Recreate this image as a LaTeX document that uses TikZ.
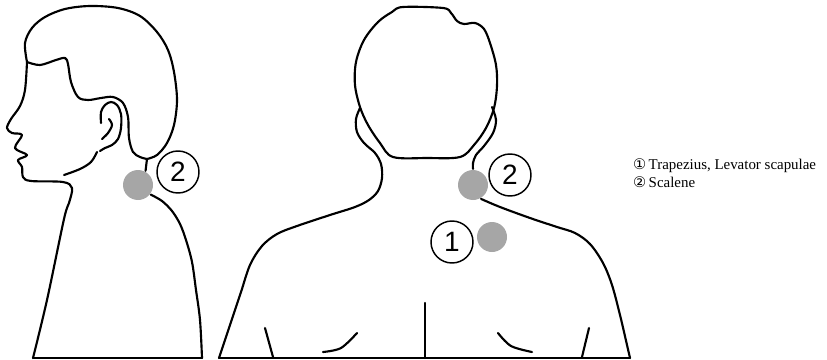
\documentclass[tikz,border=0pt]{standalone}
\usepackage{fontspec}
\setmainfont{Liberation Serif}
\newfontfamily\labelfont{Liberation Sans}
\newfontfamily\symfont{DejaVu Sans}

\begin{document}
\begin{tikzpicture}[x=0.75pt,y=-0.75pt,line width=1.6pt,line join=round,line cap=round]
\useasboundingbox (0,0) rectangle (827,360);

\tikzstyle{spot}=[circle,fill=black!35,minimum size=22.5pt,inner sep=0pt]
\tikzstyle{num}=[circle,draw,line width=1.1pt,minimum size=31.5pt,inner sep=0pt,font=\labelfont\fontsize{21}{21}\selectfont]
\tikzstyle{contour}=[black,smooth,tension=0.55]
\tikzstyle{legend}=[anchor=west,inner sep=0pt,font=\fontsize{11.2}{13}\selectfont]

% side view
\node [spot] (sideS) at (138,185) {};
\node [num] (sideN) at (178,172) {2};
\draw plot [contour] coordinates {(27,62) (25,43) (32,28) (45,17) (65,9) (90,6) (118,8) (140,16) (157,32) (168,50) (174,72) (177,100) (174,125) (167,143) (157,155) (147,159)};
\draw plot [contour] coordinates {(27,62) (40,65) (56,60) (65,58) (68,64) (71,82) (78,97) (88,100) (101,98) (113,97) (123,103) (128,117) (129,138) (133,152) (140,157) (147,159)};
\draw (147,159) -- (sideS.62);
\draw plot [contour] coordinates {(sideS.-37) (162,201) (172,211) (180,224) (186,240) (192,262) (196,290) (200,320) (202,358)};
\draw plot [contour] coordinates {(27,62) (25,90) (20,106) (11,119) (7,128) (12,133) (22,135) (15,148) (27,155) (18,160) (22,167) (23,177) (31,181) (63,182) (72,188) (69,203) (64,219) (47,300) (33,358)};
\draw plot [contour] coordinates {(64,175) (80,169) (91,162) (97,152)};
\draw plot [contour] coordinates {(101,123) (101,112) (105,105) (111,102) (117,105) (121,114) (121,128) (118,139) (112,145) (105,148) (100,151)};
\draw plot [contour] coordinates {(109,119) (112,125) (108,133) (102,139)};
\draw (33,358) -- (202,358);

% back view
\node [spot] (backS) at (473,185) {};
\node [num] (backN) at (510,175) {2};
\node [spot] (frontS) at (492,237) {};
\node [num] (frontN) at (452,242) {1};
\draw plot [contour, smooth cycle] coordinates {(403,7) (443,8) (451,13) (457,21) (464,24) (475,23) (484,29) (490,43) (496,65) (497,86) (494,108) (486,128) (474,145) (460,157) (427,158) (393,157) (380,143) (368,125) (360,107) (355,85) (356,62) (364,40) (378,22) (392,12)};
\draw plot [contour] coordinates {(360,108) (356,119) (357,132) (364,143) (375,153) (381,164) (382,178) (378,191) (369,200) (355,207) (330,215) (297,226) (277,234) (262,246) (250,265) (241,292) (230,325) (219,358)};
\draw plot [contour] coordinates {(492,107) (496,120) (493,133) (484,146) (476,155) (473,163) (backS.90)};
\draw plot [contour] coordinates {(backS.-60) (500,207) (530,218) (557,227) (575,233) (590,244) (603,263) (612,285) (620,315) (627,345) (630,358)};
\draw (425,303) -- (425,358);
\draw (265,328) -- (273,357);
\draw (589,328) -- (582,357);
\draw plot [contour] coordinates {(323,352) (341,348) (357,333)};
\draw plot [contour] coordinates {(498,333) (511,346) (532,352)};
\draw (219,358) -- (630,358);

% legend
\node [legend] (legA) at (632,166) {{\symfont\fontsize{11}{13}\selectfont ①}\,Trapezius, Levator scapulae};
\node [legend] (legB) at (632,182) {{\symfont\fontsize{11}{13}\selectfont ②}\,Scalene};
\end{tikzpicture}
\end{document}
